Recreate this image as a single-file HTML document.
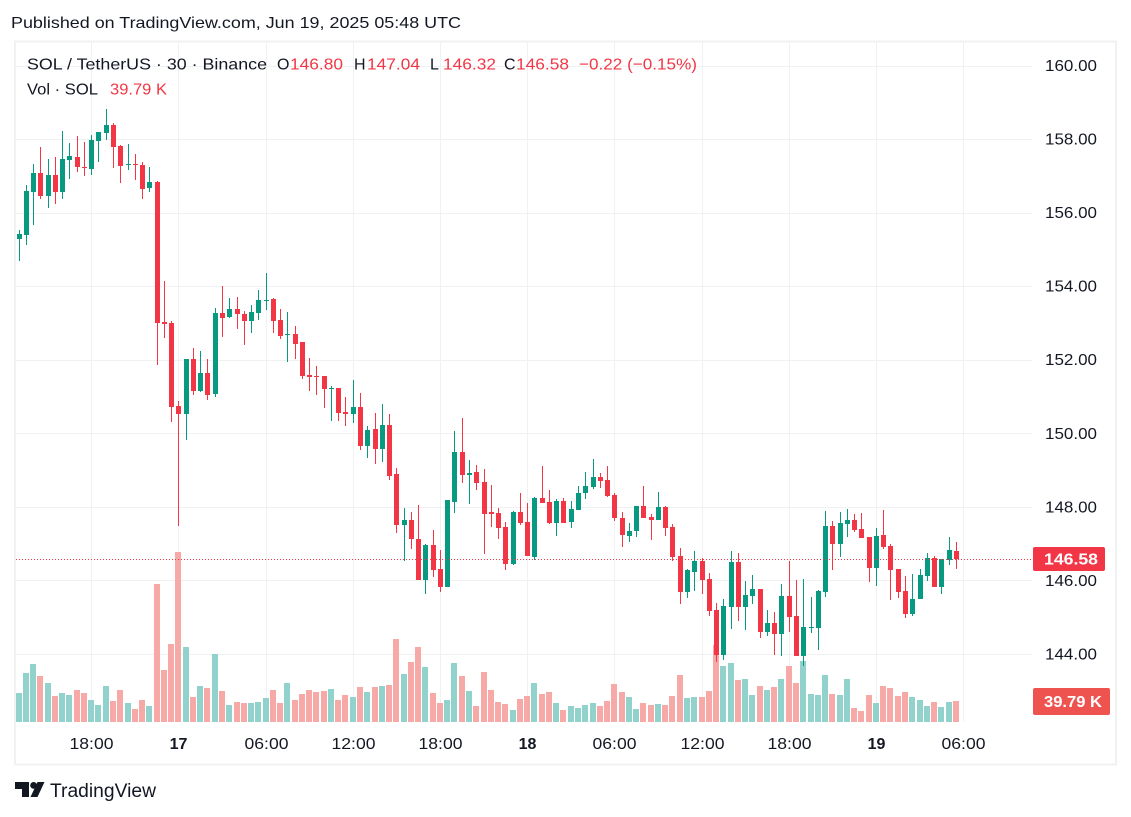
<!DOCTYPE html>
<html lang="en">
<head>
<meta charset="utf-8">
<title>SOL / TetherUS chart</title>
<style>
html,body{margin:0;padding:0;background:#fff;width:1131px;height:817px;overflow:hidden}
svg{display:block}
text{font-family:"Liberation Sans",sans-serif}
</style>
</head>
<body>
<svg id="chart" width="1131" height="817" viewBox="0 0 1131 817" xmlns="http://www.w3.org/2000/svg">
<rect x="0" y="0" width="1131" height="817" fill="#ffffff"/>
<text x="11" y="28" font-size="16" fill="#131722" textLength="450" lengthAdjust="spacingAndGlyphs">Published on TradingView.com, Jun 19, 2025 05:48 UTC</text>
<rect x="15" y="41.5" width="1101" height="723" fill="none" stroke="#f0f1f3" stroke-width="2"/>
<g id="grid"></g>
<g id="volumes"></g>
<g id="candles"></g>
<line id="last-line" x1="16" x2="1032" stroke="#f23645" stroke-width="1" stroke-dasharray="1 2"/>
<g id="price-axis"></g>
<g id="time-axis"></g>
<g font-size="16">
<text x="27" y="69.5" fill="#131722" textLength="240" lengthAdjust="spacingAndGlyphs">SOL / TetherUS · 30 · Binance</text>
<text x="277" y="69.5" fill="#131722">O</text>
<text x="290" y="69.5" fill="#f23645" textLength="53" lengthAdjust="spacingAndGlyphs">146.80</text>
<text x="354" y="69.5" fill="#131722">H</text>
<text x="367" y="69.5" fill="#f23645" textLength="53" lengthAdjust="spacingAndGlyphs">147.04</text>
<text x="430" y="69.5" fill="#131722">L</text>
<text x="443" y="69.5" fill="#f23645" textLength="53" lengthAdjust="spacingAndGlyphs">146.32</text>
<text x="504" y="69.5" fill="#131722">C</text>
<text x="516" y="69.5" fill="#f23645" textLength="53" lengthAdjust="spacingAndGlyphs">146.58</text>
<text x="579" y="69.5" fill="#f23645" textLength="118" lengthAdjust="spacingAndGlyphs">−0.22 (−0.15%)</text>
<text x="27" y="94.5" fill="#131722" textLength="71" lengthAdjust="spacingAndGlyphs">Vol · SOL</text>
<text x="110" y="94.5" fill="#f23645" textLength="57" lengthAdjust="spacingAndGlyphs">39.79 K</text>
</g>
<g>
<rect x="1033" y="547" width="72" height="24" rx="2" fill="#f23645"/>
<text x="1044" y="564.5" font-size="16" font-weight="bold" fill="#ffffff" textLength="54" lengthAdjust="spacingAndGlyphs">146.58</text>
</g>
<g>
<rect x="1033" y="688" width="77" height="27" rx="2" fill="#ef5350"/>
<text x="1044" y="707" font-size="16" font-weight="bold" fill="#ffffff" textLength="58" lengthAdjust="spacingAndGlyphs">39.79 K</text>
</g>
<g>
<path d="M15 782h14v15h-7v-8h-7z" fill="#131722"/>
<circle cx="33.6" cy="785.4" r="3.4" fill="#131722"/>
<path d="M37.5 782H44.5L37.5 797H30.5z" fill="#131722"/>
<text x="50" y="797" font-size="19" fill="#131722" textLength="106" lengthAdjust="spacingAndGlyphs">TradingView</text>
</g>
</svg>
<script>
const opens = [
155.28,155.39,156.56,157.08,156.45,157.02,156.56,157.43,157.51,157.24,
157.18,157.95,158.16,158.38,157.81,157.29,157.32,157.29,156.67,156.83,
153.02,153.00,150.74,150.52,152.02,151.15,151.64,151.07,153.27,153.16,
153.38,153.24,153.05,153.27,153.60,153.65,153.08,152.67,152.70,152.48,
151.58,151.56,151.56,151.20,151.23,150.58,150.52,150.71,149.65,150.12,
149.57,150.22,148.89,147.51,147.64,147.12,146.01,146.96,146.31,145.82,
148.13,149.49,148.86,148.95,148.67,147.86,147.83,147.45,146.45,147.86,
147.59,146.64,148.24,148.13,147.56,148.16,147.59,147.91,148.38,148.54,
148.81,148.73,148.32,147.70,147.21,147.34,148.02,147.72,147.64,147.99,
147.45,146.66,145.68,146.23,146.53,146.04,145.19,143.97,145.28,146.50,
145.28,145.57,145.77,144.60,144.84,144.54,145.57,145.03,143.94,144.70,
144.70,145.68,147.48,146.99,147.53,147.64,147.40,147.18,146.34,147.23,
146.93,146.31,145.71,145.09,145.49,146.12,146.61,145.82,146.55,146.80];
const highs = [
155.53,156.75,157.32,157.78,157.46,157.51,158.22,157.89,158.08,157.92,
158.11,158.19,158.82,158.44,157.84,157.86,157.59,157.38,157.24,156.86,
154.14,153.05,150.88,152.02,152.32,152.24,152.02,153.41,154.00,153.68,
153.70,153.32,153.49,153.89,154.36,153.68,153.38,153.30,152.92,152.48,
152.05,151.83,151.56,151.28,151.23,150.99,151.45,151.09,150.20,150.55,
150.80,150.52,149.05,147.97,147.86,148.05,146.99,147.37,146.83,148.19,
150.06,150.41,149.27,149.14,149.03,148.59,147.97,147.59,147.89,148.38,
148.10,148.27,149.11,148.46,148.21,148.24,148.16,148.57,148.95,149.30,
148.92,149.11,148.38,147.86,147.56,148.02,148.57,147.80,148.40,148.02,
147.53,146.88,146.31,146.80,146.61,146.20,145.38,145.49,146.80,146.75,
145.98,146.15,145.77,145.19,145.14,145.90,146.53,146.01,146.04,145.55,
145.74,147.89,147.61,147.86,147.94,147.80,147.83,147.18,147.42,147.91,
146.99,146.31,146.12,146.17,146.31,146.75,146.66,146.58,147.18,147.04];
const lows = [
154.68,155.12,155.66,156.37,156.12,156.23,156.37,156.91,157.10,157.00,
157.02,157.38,157.97,157.21,156.80,157.16,156.89,156.37,156.56,151.86,
152.59,150.30,147.48,149.82,151.04,151.12,150.90,150.99,152.62,153.13,
152.83,152.40,152.73,153.08,153.35,152.73,152.56,151.94,152.02,151.47,
151.15,151.04,150.69,150.33,150.33,150.20,150.28,149.54,149.33,149.16,
149.22,148.73,147.29,146.53,146.85,146.01,145.63,146.09,145.68,145.82,
147.83,148.65,148.08,148.46,146.72,147.45,147.12,146.28,146.42,147.51,
146.66,146.55,148.10,147.53,147.21,147.56,147.42,147.91,148.21,148.48,
148.51,148.27,147.61,146.91,147.04,147.18,147.70,147.10,147.64,147.21,
146.53,145.36,145.52,145.71,145.63,145.03,143.78,143.83,144.68,144.89,
144.65,145.36,144.43,144.49,143.97,143.94,144.60,143.94,143.67,144.57,
144.11,145.55,146.28,146.64,147.18,147.31,147.15,145.96,145.85,146.85,
145.47,145.52,144.98,145.03,145.49,145.98,145.82,145.63,146.42,146.32];
const closes = [
155.42,156.59,157.08,156.45,157.02,156.56,157.46,157.54,157.24,157.21,
157.97,158.19,158.38,157.78,157.27,157.32,157.29,156.64,156.83,153.00,
152.97,150.71,150.52,152.02,151.15,151.64,151.04,153.27,153.13,153.38,
153.24,153.05,153.30,153.62,153.62,153.05,152.64,152.70,152.43,151.56,
151.53,151.53,151.20,151.23,150.55,150.52,150.71,149.65,150.09,149.57,
150.22,148.84,147.51,147.64,147.12,146.01,146.96,146.28,145.82,148.19,
149.49,148.86,148.92,148.65,147.80,147.80,147.42,146.45,147.86,147.56,
146.66,148.24,148.10,147.56,148.16,147.56,147.94,148.38,148.57,148.81,
148.70,148.30,147.70,147.23,147.34,148.02,147.70,147.64,147.99,147.42,
146.64,145.68,146.28,146.53,146.01,145.17,143.97,145.30,146.50,145.28,
145.60,145.77,144.60,144.84,144.54,145.57,145.00,143.94,144.73,144.73,
145.71,147.48,146.99,147.56,147.64,147.37,147.15,146.34,147.21,146.91,
146.28,145.68,145.09,145.49,146.15,146.61,145.82,146.58,146.83,146.58];
const volumes = [
55.1,93.5,110.8,87.7,74.3,49.3,55.1,51.3,60.9,55.1,
41.7,32.1,68.5,39.8,60.9,35.9,24.4,41.7,30.1,265,
99.3,149.2,326.4,143.4,47.4,68.5,64.7,130,58.9,32.1,
37.8,35.9,35.9,37.8,45.5,60.9,35.9,74.3,41.7,53.2,
60.9,57,58.9,62.8,41.7,51.3,47.4,66.6,57,66.6,
68.5,70.5,158.8,91.6,114.6,143.4,105,55.1,35.9,41.7,
112.7,87.7,58.9,30.1,95.4,60.9,37.8,34,22.5,43.6,
49.3,74.3,53.2,57,35.9,22.5,30.1,26.3,32.1,35.9,
30.1,39.8,72.4,57,47.4,24.4,35.9,32.1,34,32.1,
49.3,89.7,45.5,47.4,47.4,58.9,147.3,106.9,112.7,80.1,
82,51.3,68.5,60.9,66.6,82,106.9,74.3,116.5,53.2,
51.3,89.7,53.2,51.3,82,26.3,20.5,51.3,35.9,68.5,
64.7,49.3,57,47.4,41.7,30.1,37.8,28.2,37.8,39.79];
const priceTicks = [160,158,156,154,152,150,148,146,144];
const timeTickLabels = ['18:00','17','06:00','12:00','18:00','18','06:00','12:00','18:00','19','06:00'];
const timeTickBars = [10,22,34,46,58,70,82,94,106,118,130];
const lastPrice = 146.58;

const NS = 'http://www.w3.org/2000/svg';
function xAt(i){ return Math.floor(19.02 + 7.266 * i); }
function yPrice(p){ return 65.5 + (160 - p) * 36.78; }
function yVol(v){ return 722 - v * 0.5202; }
function mk(tag, parentId, attrs){
  const el = document.createElementNS(NS, tag);
  for (const k in attrs) el.setAttribute(k, attrs[k]);
  document.getElementById(parentId).appendChild(el);
  return el;
}

priceTicks.forEach(function(p){
  const y = Math.round(yPrice(p)) + 0.5;
  const g = mk('line', 'grid', {x1:16, x2:1032, y1:y, y2:y, stroke:'#f0f1f3', 'stroke-width':1});
  
  
  const t = mk('text', 'price-axis', {x:1045, y:yPrice(p) + 5.5, 'font-size':16, fill:'#131722', textLength:52, lengthAdjust:'spacingAndGlyphs'});
  
  
  t.textContent = p.toFixed(2);
});

timeTickBars.forEach(function(b, i){
  const x = xAt(b) + 0.5;
  const g = mk('line', 'grid', {x1:x, x2:x, y1:42, y2:722, stroke:'#f0f1f3', 'stroke-width':1});
  
  
  const major = timeTickLabels[i].length === 2;
  const attrs = {x:x, y:749, 'font-size':16, 'text-anchor':'middle', fill:'#131722', 'font-weight':major ? 'bold' : 'normal'};
  if (!major) { attrs.textLength = 44; attrs.lengthAdjust = 'spacingAndGlyphs'; }
  const t = mk('text', 'time-axis', attrs);
  
  
  t.textContent = timeTickLabels[i];
});

volumes.forEach(function(v, i){
  const up = closes[i] >= opens[i];
  const top = Math.round(yVol(v));
  const bar = mk('rect', 'volumes', {x:xAt(i) - 3, y:top, width:6, height:722 - top, fill:up ? '#92d2cc' : '#f7a9a7'});
  
  
});

opens.forEach(function(o, i){
  const c = closes[i];
  const up = c >= o;
  const col = up ? '#089981' : '#f23645';
  const x = xAt(i);
  const hi = Math.round(yPrice(highs[i]));
  const lo = Math.round(yPrice(lows[i]));
  const top = Math.round(yPrice(Math.max(o, c)));
  const bot = Math.round(yPrice(Math.min(o, c)));
  const wick = mk('rect', 'candles', {x:x, y:hi, width:1, height:Math.max(1, lo - hi), fill:col});
  
  
  const body = mk('rect', 'candles', {x:x - 2, y:top, width:5, height:Math.max(1, bot - top), fill:col});
  
  
});

const lastLine = document.getElementById('last-line');
lastLine.setAttribute('y1', Math.round(yPrice(lastPrice)) + 0.5);
lastLine.setAttribute('y2', Math.round(yPrice(lastPrice)) + 0.5);
</script>
</body>
</html>
